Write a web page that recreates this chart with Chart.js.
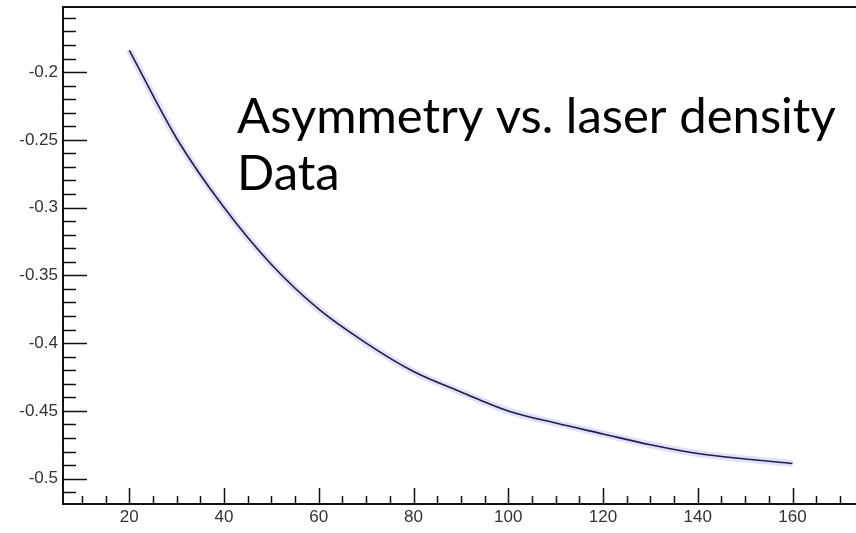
<!DOCTYPE html>
<html>
<head>
<meta charset="utf-8">
<script src="https://cdn.jsdelivr.net/npm/chart.js@4.4.1/dist/chart.umd.min.js"></script>
<style>
  html, body { margin: 0; padding: 0; background: #fff; }
  #wrap { width: 856px; height: 533px; position: relative; }
</style>
</head>
<body>
<div id="wrap"><canvas id="asym"></canvas></div>
<script>
// laser density vs measured asymmetry
const density   = [20, 30, 40, 50, 60, 70, 80, 90, 100, 110, 120, 130, 140, 150, 160];
const asymmetry = [-0.184, -0.249, -0.300, -0.342, -0.375, -0.400, -0.421, -0.436,
                   -0.450, -0.459, -0.467, -0.475, -0.4815, -0.4855, -0.4888];

const xTickLabels = [20, 40, 60, 80, 100, 120, 140, 160];
const yTickLabels = [-0.5, -0.45, -0.4, -0.35, -0.3, -0.25, -0.2];
const titleLines  = ["Asymmetry vs. laser density", "Data"];

const xRange = [6, 173.4];
const yRange = [-0.5187, -0.152];

// ROOT style inward ticks + frame (no right edge, it falls outside the pad)
const frameTicks = {
  id: "frameTicks",
  afterDraw(chart) {
    const { ctx, chartArea: a, scales } = chart;
    const xs = scales.x, ys = scales.y;
    ctx.save();
    ctx.strokeStyle = "#111";
    ctx.lineWidth = 2;
    ctx.beginPath();
    ctx.moveTo(chart.width, a.top);
    ctx.lineTo(a.left, a.top);
    ctx.lineTo(a.left, a.bottom);
    ctx.lineTo(chart.width, a.bottom);
    ctx.stroke();

    ctx.lineWidth = 1.5;
    ctx.beginPath();
    for (let v = 10; v <= 170; v += 5) {
      const px = Math.round(xs.getPixelForValue(v)) + 0.5;
      const len = v % 20 === 0 ? 16 : 8;
      ctx.moveTo(px, a.bottom);
      ctx.lineTo(px, a.bottom - len);
    }
    for (let i = -51; i <= -16; i++) {
      const v = i / 100;
      const py = Math.round(ys.getPixelForValue(v)) + 0.5;
      const len = i % 5 === 0 ? 24 : 13;
      ctx.moveTo(a.left, py);
      ctx.lineTo(a.left + len, py);
    }
    ctx.stroke();

    ctx.fillStyle = "#000";
    ctx.font = "49px Lato";
    ctx.textBaseline = "alphabetic";
    ctx.fillText(titleLines[0], 237, 133);
    ctx.fillText(titleLines[1], 237, 190);
    ctx.restore();
  }
};

new Chart(document.getElementById("asym"), {
  type: "line",
  data: {
    datasets: [
      {
        data: density.map((d, i) => ({ x: d, y: asymmetry[i] })),
        borderColor: "#1c1c58",
        borderWidth: 1.6,
        pointRadius: 0,
        cubicInterpolationMode: "monotone",
        fill: false
      },
      {
        // faint halo of the measured points
        data: density.map((d, i) => ({ x: d, y: asymmetry[i] })),
        borderColor: "rgba(170,170,225,0.35)",
        borderWidth: 7,
        pointRadius: 0,
        cubicInterpolationMode: "monotone",
        fill: false
      }
    ]
  },
  options: {
    responsive: true,
    maintainAspectRatio: false,
    animation: false,
    layout: { padding: { top: 7, right: 0, left: 0, bottom: 0 } },
    plugins: { legend: { display: false }, tooltip: { enabled: false } },
    scales: {
      x: {
        type: "linear",
        min: xRange[0],
        max: xRange[1],
        grid: { display: false, drawTicks: false },
        border: { display: false },
        afterBuildTicks: s => { s.ticks = xTickLabels.map(v => ({ value: v })); },
        afterFit: s => { s.height = 29; s.paddingLeft = 0; s.paddingRight = 0; },
        ticks: {
          color: "#333",
          font: { family: "Liberation Sans", size: 17 },
          padding: 3,
          maxRotation: 0,
          callback: v => String(v)
        }
      },
      y: {
        type: "linear",
        min: yRange[0],
        max: yRange[1],
        grid: { display: false, drawTicks: false },
        border: { display: false },
        afterBuildTicks: s => { s.ticks = yTickLabels.map(v => ({ value: v })); },
        afterFit: s => { s.width = 63; s.paddingTop = 0; s.paddingBottom = 0; },
        ticks: {
          color: "#333",
          font: { family: "Liberation Sans", size: 17 },
          padding: 5,
          callback: v => String(v)
        }
      }
    }
  },
  plugins: [frameTicks]
});
</script>
</body>
</html>
